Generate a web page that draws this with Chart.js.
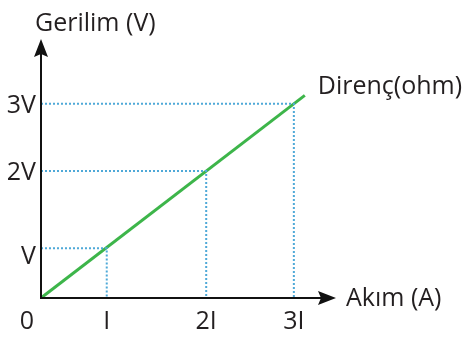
<!DOCTYPE html>
<html>
<head>
<meta charset="utf-8">
<script src="https://cdn.jsdelivr.net/npm/chart.js@4/dist/chart.umd.min.js"></script>
<style>
  html, body { margin: 0; padding: 0; background: #ffffff; }
  #wrap { width: 464px; height: 340px; }
</style>
</head>
<body>
<div id="wrap"><canvas id="c" width="464" height="340"></canvas></div>
<script>
// ---- data ----
const xTickValues = [0, 0.78, 1.96, 3];
const xTickLabels = ['0', 'I', '2I', '3I'];
const yTickValues = [0.77, 1.96, 3];
const yTickLabels = ['V', '2V', '3V'];
const lineX = [0, 3.13];
const lineY = [0, 3.13];
const guideX = [0.78, 1.96, 3];
const guideY = [0.77, 1.96, 3];
const xAxisTitle = 'Akım (A)';
const yAxisTitle = 'Gerilim (V)';
const seriesName = 'Direnç(ohm)';

const FONT = '"Open Sans", sans-serif';
const GREEN = '#3db54a';
const BLUE = '#4fa9d8';

const datasets = [];
guideX.forEach((gx, i) => {
  const gy = guideY[i];
  datasets.push({
    data: [{x: 0, y: gy}, {x: gx, y: gy}, {x: gx, y: 0}],
    borderColor: BLUE,
    borderWidth: 2,
    borderDash: [2, 2],
    pointRadius: 0,
    showLine: true,
    fill: false,
    tension: 0
  });
});
datasets.push({
  label: seriesName,
  data: lineX.map((x, i) => ({x: x, y: lineY[i]})),
  borderColor: GREEN,
  borderWidth: 3,
  pointRadius: 0,
  showLine: true,
  fill: false,
  tension: 0
});

const axesPlugin = {
  id: 'axesPlugin',
  afterDatasetsDraw(chart) {
    const ctx = chart.ctx;
    const xs = chart.scales.x, ys = chart.scales.y;
    const x0 = xs.getPixelForValue(0), y0 = ys.getPixelForValue(0);
    const xEnd = xs.right, yEnd = ys.top;
    ctx.save();
    ctx.strokeStyle = '#111';
    ctx.fillStyle = '#111';
    ctx.lineWidth = 2;
    // y axis
    ctx.beginPath(); ctx.moveTo(x0, y0 + 1); ctx.lineTo(x0, yEnd + 12); ctx.stroke();
    ctx.beginPath(); ctx.moveTo(x0, yEnd); ctx.lineTo(x0 - 7, yEnd + 18); ctx.lineTo(x0, yEnd + 15); ctx.lineTo(x0 + 7, yEnd + 18); ctx.closePath(); ctx.fill();
    // x axis
    ctx.beginPath(); ctx.moveTo(x0 - 1, y0); ctx.lineTo(xEnd - 12, y0); ctx.stroke();
    ctx.beginPath(); ctx.moveTo(xEnd, y0); ctx.lineTo(xEnd - 18, y0 - 7); ctx.lineTo(xEnd - 15, y0); ctx.lineTo(xEnd - 18, y0 + 7); ctx.closePath(); ctx.fill();

    ctx.fillStyle = '#231f20';
    ctx.font = '25px ' + FONT;
    // x tick labels
    ctx.textAlign = 'center'; ctx.textBaseline = 'middle';
    xTickValues.forEach((v, i) => {
      let px = xs.getPixelForValue(v);
      if (v === 0) px -= 14;
      ctx.fillText(xTickLabels[i], px, y0 + 24);
    });
    // y tick labels
    ctx.textAlign = 'right';
    yTickValues.forEach((v, i) => {
      const off = i === 0 ? 9 : 2;
      ctx.fillText(yTickLabels[i], x0 - 5, ys.getPixelForValue(v) + off);
    });
    // titles
    ctx.textAlign = 'left';
    ctx.fillText(yAxisTitle, x0 - 6, 24);
    ctx.fillText(xAxisTitle, xEnd + 10, y0 + 1);
    ctx.fillText(seriesName, xs.getPixelForValue(lineX[lineX.length - 1]) + 13, ys.getPixelForValue(lineY[lineY.length - 1]) - 8);
    ctx.restore();
  }
};

new Chart(document.getElementById('c'), {
  type: 'scatter',
  data: { datasets: datasets },
  options: {
    responsive: false,
    animation: false,
    layout: { padding: { left: 41, right: 128, top: 39, bottom: 42 } },
    plugins: { legend: { display: false }, tooltip: { enabled: false } },
    scales: {
      x: { type: 'linear', min: 0, max: 3.5, display: false },
      y: { type: 'linear', min: 0, max: 4, display: false }
    }
  },
  plugins: [axesPlugin]
});
</script>
</body>
</html>
